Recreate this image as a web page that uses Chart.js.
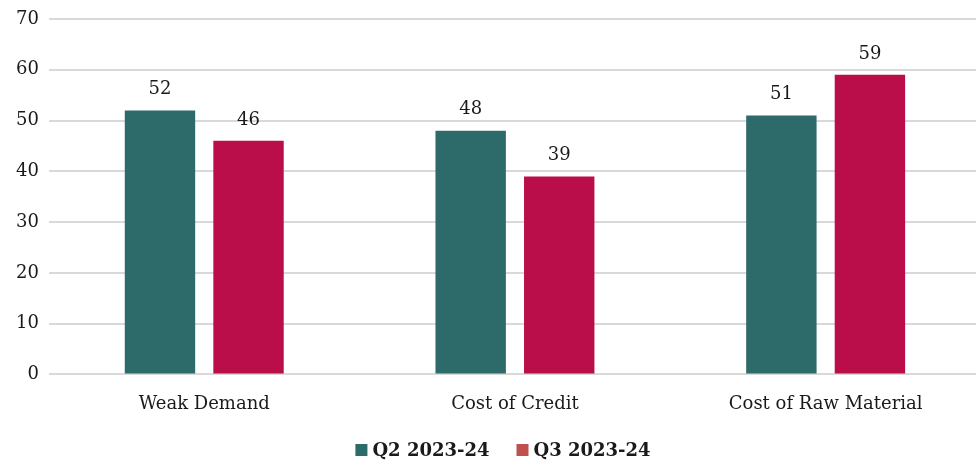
<!DOCTYPE html>
<html>
<head>
<meta charset="utf-8">
<script src="https://cdn.jsdelivr.net/npm/chart.js@4"></script>
<style>
  body { margin: 0; background: #fff; overflow: hidden; }
</style>
</head>
<body>
<canvas id="chart" width="981" height="465"></canvas>
<script>
const categories = ['Weak Demand', 'Cost of Credit', 'Cost of Raw Material'];
const seriesNames = ['Q2 2023-24', 'Q3 2023-24'];
const q2Values = [52, 48, 51];
const q3Values = [46, 39, 59];
const yTicks = [0, 10, 20, 30, 40, 50, 60, 70];

const FONT = "'DejaVu Serif', serif";
const barColors = ['#2d6a6a', '#b90e4a'];
const legendColors = ['#2d6a6a', '#c0504d'];

// value labels above each bar
const barLabels = {
  id: 'barLabels',
  afterDatasetsDraw(chart) {
    const ctx = chart.ctx;
    ctx.save();
    ctx.font = "18px " + FONT;
    ctx.fillStyle = '#1a1a1a';
    ctx.textAlign = 'center';
    ctx.textBaseline = 'bottom';
    chart.data.datasets.forEach((ds, i) => {
      chart.getDatasetMeta(i).data.forEach((bar, j) => {
        ctx.fillText(ds.data[j], bar.x, bar.y - 12);
      });
    });
    ctx.restore();
  }
};

// legend row under the axis labels
const bottomLegend = {
  id: 'bottomLegend',
  afterDraw(chart) {
    const ctx = chart.ctx;
    ctx.save();
    ctx.font = "bold 18px " + FONT;
    ctx.textBaseline = 'middle';
    const box = 12, gap = 5, spacing = 27, y = 450;
    const widths = seriesNames.map(s => ctx.measureText(s).width);
    const total = widths.reduce((a, w) => a + box + gap + w, 0) + spacing * (seriesNames.length - 1);
    let x = 503 - total / 2;
    seriesNames.forEach((name, i) => {
      ctx.fillStyle = legendColors[i];
      ctx.fillRect(x, y - box / 2, box, box);
      x += box + gap;
      ctx.fillStyle = '#1a1a1a';
      ctx.fillText(name, x, y + 1);
      x += widths[i] + spacing;
    });
    ctx.restore();
  }
};

new Chart(document.getElementById('chart'), {
  type: 'bar',
  data: {
    labels: categories,
    datasets: [
      { label: seriesNames[0], data: q2Values, backgroundColor: barColors[0] },
      { label: seriesNames[1], data: q3Values, backgroundColor: barColors[1] }
    ]
  },
  options: {
    responsive: false,
    animation: false,
    layout: { padding: { top: 0, right: 0, left: 6, bottom: 39 } },
    datasets: { bar: { categoryPercentage: 0.57, barPercentage: 0.795 } },
    scales: {
      x: {
        grid: { display: false },
        border: { display: false },
        ticks: { color: '#1a1a1a', font: { family: FONT, size: 18 }, padding: 11 }
      },
      y: {
        min: 0,
        max: 70,
        afterBuildTicks: (axis) => { axis.ticks = yTicks.map(v => ({ value: v })); },
        grid: { color: '#d9d9d9', lineWidth: 2, drawTicks: false },
        border: { display: false },
        ticks: { color: '#1a1a1a', font: { family: FONT, size: 18, lineHeight: 1 }, padding: 10 }
      }
    },
    plugins: {
      tooltip: { enabled: false },
      legend: { display: false }
    }
  },
  plugins: [barLabels, bottomLegend]
});
</script>
</body>
</html>
